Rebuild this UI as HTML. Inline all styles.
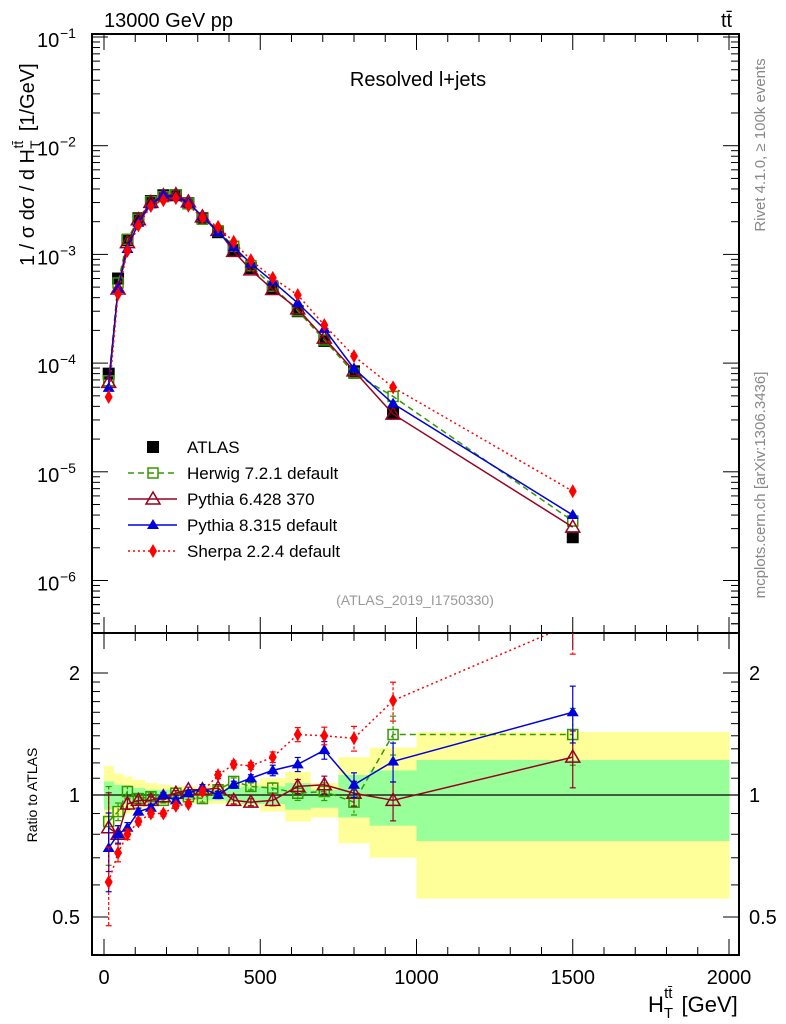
<!DOCTYPE html>
<html><head><meta charset="utf-8">
<style>
body{margin:0;background:#fff;}
svg{display:block;font-family:"Liberation Sans",sans-serif;}
</style></head>
<body>
<svg id="c" width="786" height="1024" viewBox="0 0 786 1024"></svg>
<script>
// ---- data ----
const binEdges=[0,30,60,90,130,170,210,250,290,340,390,440,500,580,660,750,850,1000,2000];
const atlas=[8.0e-5,6.0e-4,1.35e-3,2.15e-3,3.1e-3,3.5e-3,3.5e-3,2.95e-3,2.15e-3,1.6e-3,1.1e-3,7.5e-4,4.9e-4,3.0e-4,1.6e-4,8.4e-5,3.5e-5,2.5e-6];
const herwigRatio=[0.86,0.91,1.02,0.98,0.99,0.97,1.01,0.99,0.98,1.03,1.08,1.05,1.04,1.01,1.02,0.96,1.41,1.41];
const py6Ratio=[0.83,0.80,0.95,0.97,0.97,0.99,1.01,1.03,1.03,1.04,0.97,0.96,0.97,1.05,1.06,1.01,0.97,1.24];
const py8Ratio=[0.74,0.80,0.83,0.91,0.93,1.00,0.97,1.01,1.04,1.00,1.06,1.10,1.15,1.19,1.29,1.06,1.21,1.60];
const sherpaRatio=[0.61,0.72,0.80,0.86,0.90,0.90,0.94,0.95,1.02,1.12,1.19,1.18,1.24,1.41,1.40,1.38,1.71,2.65];
const mcErr=[0.22,0.05,0.03,0.02,0.02,0.015,0.015,0.015,0.02,0.02,0.02,0.02,0.03,0.04,0.05,0.07,0.11,0.16];
const bandYellowUp=[1.18,1.13,1.11,1.09,1.07,1.06,1.05,1.05,1.05,1.06,1.06,1.07,1.10,1.14,1.07,1.24,1.31,1.43];
const bandYellowDn=[0.83,0.88,0.90,0.92,0.94,0.95,0.96,0.96,0.95,0.95,0.95,0.94,0.91,0.86,0.88,0.76,0.70,0.555];
const bandGreenUp=[1.08,1.06,1.05,1.04,1.03,1.03,1.03,1.03,1.03,1.03,1.04,1.05,1.05,1.07,1.03,1.12,1.15,1.22];
const bandGreenDn=[0.92,0.94,0.95,0.96,0.97,0.97,0.97,0.97,0.97,0.97,0.96,0.95,0.95,0.92,0.93,0.88,0.84,0.77];
const xTicks=[0,500,1000,1500,2000];
const yDecades=[-6,-5,-4,-3,-2,-1];
const ratioTicks=[0.5,1,2];

// ---- geometry ----
const L=92,R=739,T=34,M=633,B=955;
const X=v=>104+v*0.3125;
const Y=v=>37+(-1-Math.log10(v))*108.7;
const RY=r=>795-122*Math.log2(r);
const svg=document.getElementById('c');
const NS='http://www.w3.org/2000/svg';
function mk(tag,attrs,parent){const e=document.createElementNS(NS,tag);for(const k in attrs)e.setAttribute(k,attrs[k]);(parent||svg).appendChild(e);return e;}
function txt(s,x,y,attrs,parent){const e=mk('text',Object.assign({x:x,y:y},attrs),parent);e.textContent=s;return e;}
const centers=binEdges.slice(0,-1).map((e,i)=>(e+binEdges[i+1])/2);

const defs=mk('defs',{});
const c1=mk('clipPath',{id:'clipTop'},defs);mk('rect',{x:L,y:T,width:R-L,height:M-T},c1);
const c2=mk('clipPath',{id:'clipBot'},defs);mk('rect',{x:L,y:M,width:R-L,height:B-M},c2);

// bands
const gBand=mk('g',{'clip-path':'url(#clipBot)'});


for(let i=0;i<centers.length;i++){
  const x0=X(binEdges[i]),x1=X(binEdges[i+1]);
  const ry=mk('rect',{x:x0,y:RY(bandYellowUp[i]),width:x1-x0+0.5,height:RY(bandYellowDn[i])-RY(bandYellowUp[i]),fill:'#ffff99'},gBand);
  
  
}
for(let i=0;i<centers.length;i++){
  const x0=X(binEdges[i]),x1=X(binEdges[i+1]);
  const rg=mk('rect',{x:x0,y:RY(bandGreenUp[i]),width:x1-x0+0.5,height:RY(bandGreenDn[i])-RY(bandGreenUp[i]),fill:'#99ff99'},gBand);
  
  
}
mk('line',{x1:L,x2:R,y1:RY(1),y2:RY(1),stroke:'#000','stroke-width':1.3});

// frames
mk('rect',{x:L,y:T,width:R-L,height:M-T,fill:'none',stroke:'#000','stroke-width':2});
mk('rect',{x:L,y:M,width:R-L,height:B-M,fill:'none',stroke:'#000','stroke-width':2});

// x ticks
for(let v=0;v<=2000;v+=100){
  const major=v%500===0,h=major?16:8,x=X(v);
  [[T,1],[M,-1],[M,1],[B,-1]].forEach(([y0,d])=>mk('line',{x1:x,x2:x,y1:y0,y2:y0+d*h,stroke:'#000','stroke-width':1}));
}
xTicks.forEach(v=>{const t=txt(String(v),X(v),984,{'font-size':20,'text-anchor':'middle'});

});

// y log ticks
yDecades.forEach(d=>{
  const y=Y(Math.pow(10,d));
  if(y>=T-1&&y<=M){mk('line',{x1:L,x2:L+16,y1:y,y2:y,stroke:'#000'});mk('line',{x1:R,x2:R-16,y1:y,y2:y,stroke:'#000'});
  const t=txt('10',37,y+10,{'font-size':20});
  
  
  const e=txt('\u2212'+String(-d),60,y+1,{'font-size':14});
  
  }
  for(let k=2;k<10;k++){const yy=Y(k*Math.pow(10,d-1));if(yy>T&&yy<M){mk('line',{x1:L,x2:L+8,y1:yy,y2:yy,stroke:'#000'});mk('line',{x1:R,x2:R-8,y1:yy,y2:yy,stroke:'#000'});}}
});
for(let k=2;k<10;k++){const yy=Y(k*1e-7);if(yy>T&&yy<M){mk('line',{x1:L,x2:L+8,y1:yy,y2:yy,stroke:'#000'});mk('line',{x1:R,x2:R-8,y1:yy,y2:yy,stroke:'#000'});}}

// ratio ticks
[0.5,0.6,0.7,0.8,0.9,1,1.1,1.2,1.3,1.4,1.5,1.6,1.7,1.8,1.9,2].forEach(r=>{
  const major=(r===0.5||r===1||r===2),h=major?16:8,y=RY(r);
  mk('line',{x1:L,x2:L+h,y1:y,y2:y,stroke:'#000'});mk('line',{x1:R,x2:R-h,y1:y,y2:y,stroke:'#000'});
});
ratioTicks.forEach(r=>{
  const a=txt(String(r),80,RY(r)+7,{'font-size':20,'text-anchor':'end'});
  
  
  const b=txt(String(r),749,RY(r)+7,{'font-size':20});
  
  
});

function marker(type,x,y,color,g,size){
  const s=size||6;
  if(type==='sq-fill')return mk('rect',{x:x-s,y:y-s,width:2*s,height:2*s,fill:'#000'},g);
  if(type==='sq-open')return mk('rect',{x:x-s+1,y:y-s+1,width:2*s-2,height:2*s-2,fill:'none',stroke:color,'stroke-width':1.5},g);
  if(type==='tri-open')return mk('polygon',{points:`${x},${y-s-1} ${x-s-1},${y+s-1} ${x+s+1},${y+s-1}`,fill:'none',stroke:color,'stroke-width':1.5},g);
  if(type==='tri-fill')return mk('polygon',{points:`${x},${y-s} ${x-s},${y+s-2} ${x+s},${y+s-2}`,fill:color},g);
  if(type==='diamond')return mk('polygon',{points:`${x},${y-s-1} ${x-s+2},${y} ${x},${y+s+1} ${x+s-2},${y}`,fill:color},g);
}
const series=[
  {name:'herwig',ratio:herwigRatio,color:'#339900',dash:'6,4',m:'sq-open',label:'Herwig 7.2.1 default'},
  {name:'pythia6',ratio:py6Ratio,color:'#990022',dash:'',m:'tri-open',label:'Pythia 6.428 370'},
  {name:'pythia8',ratio:py8Ratio,color:'#0000dd',dash:'',m:'tri-fill',label:'Pythia 8.315 default'},
  {name:'sherpa',ratio:sherpaRatio,color:'#ff0000',dash:'2,3',m:'diamond',label:'Sherpa 2.2.4 default'}
];
const gData=mk('g',{});


atlas.forEach((v,i)=>{const m=marker('sq-fill',X(centers[i]),Y(v),'#000',gData,6);

});

series.forEach(s=>{
  const gT=mk('g',{'clip-path':'url(#clipTop)'});
  
  
  const ptsT=centers.map((c,i)=>X(c)+','+Y(atlas[i]*s.ratio[i])).join(' ');
  mk('polyline',{points:ptsT,fill:'none',stroke:s.color,'stroke-width':1.5,'stroke-dasharray':s.dash},gT);
  centers.forEach((c,i)=>{const m=marker(s.m,X(c),Y(atlas[i]*s.ratio[i]),s.color,gT,6);
  
  });
  const gB=mk('g',{'clip-path':'url(#clipBot)'});
  
  
  const ptsB=centers.map((c,i)=>X(c)+','+RY(s.ratio[i])).join(' ');
  mk('polyline',{points:ptsB,fill:'none',stroke:s.color,'stroke-width':1.5,'stroke-dasharray':s.dash},gB);
  centers.forEach((c,i)=>{
    const x=X(c),r=s.ratio[i],e=mcErr[i]*r;
    const y1=RY(r+e),y2=RY(Math.max(r-e,0.3));
    mk('line',{x1:x,x2:x,y1:y1,y2:y2,stroke:s.color,'stroke-width':1.2,'stroke-dasharray':s.dash?'3,2':''},gB);
    mk('line',{x1:x-3,x2:x+3,y1:y1,y2:y1,stroke:s.color,'stroke-width':1.2},gB);
    mk('line',{x1:x-3,x2:x+3,y1:y2,y2:y2,stroke:s.color,'stroke-width':1.2},gB);
    const m=marker(s.m,x,RY(r),s.color,gB,6);
    
    
  });
});

// legend
const gL=mk('g',{});


{const e=marker('sq-fill',153,447,'#000',gL,6);
 const t=txt('ATLAS',187,453,{'font-size':17},gL);}
series.forEach((s,k)=>{
  const y=473+k*26;
  mk('line',{x1:128,x2:177,y1:y,y2:y,stroke:s.color,'stroke-width':1.5,'stroke-dasharray':s.dash},gL);
  marker(s.m,153,y,s.color,gL,6);
  const t=txt(s.label,187,y+6,{'font-size':17},gL);
  
  
});

let t;
t=txt('13000 GeV pp',104,27,{'font-size':20});
t=txt('tt̄',721,27,{'font-size':20});
t=txt('Resolved l+jets',418,86,{'font-size':20,'text-anchor':'middle'});
t=txt('(ATLAS_2019_I1750330)',415,605,{'font-size':14,'text-anchor':'middle',fill:'#999'});
t=txt('Rivet 4.1.0, ≥ 100k events',0,0,{'font-size':15,fill:'#888','text-anchor':'middle',transform:'translate(765,145) rotate(-90)'});
t=txt('mcplots.cern.ch [arXiv:1306.3436]',0,0,{'font-size':15,fill:'#888','text-anchor':'middle',transform:'translate(765,485) rotate(-90)'});
t=txt('1 / σ dσ / d H',0,0,{'font-size':20,'text-anchor':'start',transform:'translate(34,266) rotate(-90)'});

{const a=mk('tspan',{dy:6,'font-size':14},t);a.textContent='T';const b=mk('tspan',{dy:-17,dx:-8,'font-size':14},t);b.textContent='tt̄';const c=mk('tspan',{dy:11,dx:4},t);c.textContent=' [1/GeV]';}
t=txt('Ratio to ATLAS',0,0,{'font-size':14,'text-anchor':'middle',transform:'translate(37,795) rotate(-90)'});
t=txt('H',648,1012,{'font-size':22});
{const a=mk('tspan',{dy:6,'font-size':15},t);a.textContent='T';const b=mk('tspan',{dy:-20,dx:-9,'font-size':15},t);b.textContent='tt̄';const c=mk('tspan',{dy:14,dx:3},t);c.textContent=' [GeV]';}
</script>
</body></html>
